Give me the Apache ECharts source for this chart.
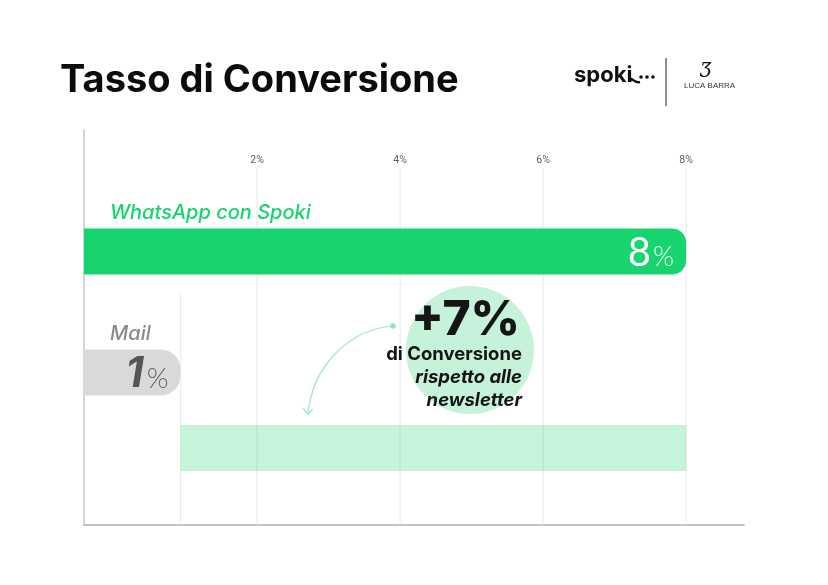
<!DOCTYPE html>
<html>
<head>
<meta charset="utf-8">
<script src="https://cdn.jsdelivr.net/npm/echarts@6/dist/echarts.min.js"></script>
<style>html,body{margin:0;padding:0;background:#fff;}#c{width:828px;height:585px;}</style>
</head>
<body>
<div id="c"></div>
<script>
// ---- data ----
const categories = ['WhatsApp con Spoki', 'Mail'];
const rates = [8, 1];                 // conversion rate, %
const tickValues = [2, 4, 6, 8];
const tickLabels = ['2%', '4%', '6%', '8%'];
const titleText = 'Tasso di Conversione';
const noteLines = ['di Conversione', 'rispetto alle', 'newsletter'];

// ---- layout / style (not data) ----
const rowCenters = [0.3076, 0.6139, 0.805]; // fraction of plot height
const GREEN = '#17d46e';
const FONT = 'Inter, "Noto Sans", sans-serif';
const SMALL_SHIFT = 5; // px nudge of the Mail end marker

const chart = echarts.init(document.getElementById('c'), null, {renderer: 'canvas'});
const uplift = rates[0] - rates[1];

function rowY(api, row) { return api.coord([0, rowCenters[row]])[1]; }

const option = {
  animation: false,
  backgroundColor: '#ffffff',
  grid: {left: 84, right: 84, top: 130, bottom: 60},
  xAxis: {
    type: 'value', min: -0.42, max: 8.81,
    axisLine: {show: true, onZero: false, lineStyle: {color: '#c4c4c4', width: 2}},
    axisTick: {show: false}, axisLabel: {show: false}, splitLine: {show: false}
  },
  yAxis: {
    type: 'value', min: 0, max: 1, inverse: true,
    axisLine: {show: true, onZero: false, lineStyle: {color: '#c8c8c8', width: 1.5}},
    axisTick: {show: false}, axisLabel: {show: false}, splitLine: {show: false}
  },
  series: [
    { // gridlines + tick labels
      type: 'custom', z: 1, silent: true,
      data: tickValues.map((v, i) => [v, i]),
      renderItem: function (params, api) {
        const cs = params.coordSys;
        const x = api.coord([api.value(0), 0])[0];
        return {type: 'group', children: [
          {type: 'line', shape: {x1: x, y1: cs.y + 38, x2: x, y2: cs.y + cs.height},
           style: {stroke: '#e6e6e6', lineWidth: 1}},
          {type: 'text', style: {text: tickLabels[api.value(1)], x: x, y: cs.y + 30,
            align: 'center', verticalAlign: 'middle', fill: '#5f5f5f', fontSize: 10.5,
            fontFamily: 'Roboto, sans-serif'}}
        ]};
      }
    },
    { // reference line at Mail value
      type: 'custom', z: 1, silent: true,
      data: [[rates[1]]],
      renderItem: function (params, api) {
        const cs = params.coordSys;
        const x = api.coord([api.value(0), 0])[0] - SMALL_SHIFT;
        return {type: 'line', shape: {x1: x, y1: rowY(api, 1) - 80, x2: x, y2: cs.y + cs.height},
          style: {stroke: '#e6ecec', lineWidth: 1}};
      }
    },
    { // difference band
      type: 'custom', z: 2, silent: true,
      data: [[rates[1], rates[0]]],
      renderItem: function (params, api) {
        const x0 = api.coord([api.value(0), 0])[0] - SMALL_SHIFT;
        const x1 = api.coord([api.value(1), 0])[0];
        const y = rowY(api, 2);
        return {type: 'rect', shape: {x: x0, y: y - 23, width: x1 - x0, height: 46},
          style: {fill: 'rgba(23,212,110,0.25)'}};
      }
    },
    { // bars
      type: 'custom', z: 3, silent: true,
      data: rates.map((v, i) => [v, i]),
      renderItem: function (params, api) {
        const cs = params.coordSys;
        const i = api.value(1);
        const x0 = cs.x;
        const x1 = api.coord([api.value(0), 0])[0] - (i === 1 ? SMALL_SHIFT : 0);
        const y = rowY(api, i);
        const isMain = i === 0;
        const r = isMain ? 14 : 20;
        const valText = String(api.value(0));
        return {type: 'group', children: [
          {type: 'rect', shape: {x: x0, y: y - 23, width: x1 - x0, height: 46, r: [0, r, r, 0]},
           style: {fill: isMain ? GREEN : '#d9d9d9'}},
          {type: 'text', style: {
            text: '{n|' + valText + '}{p|%}', x: x1 - 12, y: y + 2,
            align: 'right', verticalAlign: 'middle',
            rich: isMain ? {
              n: {fontSize: 40, fill: '#ffffff', fontFamily: 'Lato, sans-serif', fontWeight: 400},
              p: {fontSize: 27, fill: '#f2fff7', fontFamily: 'Lato, sans-serif', fontWeight: 300, padding: [8, 0, 0, 2]}
            } : {
              n: {fontSize: 42, fill: '#555555', fontFamily: FONT, fontWeight: 700, fontStyle: 'italic'},
              p: {fontSize: 28, fill: '#666666', fontFamily: 'Lato, sans-serif', fontWeight: 300, padding: [8, 0, 0, 3]}
            }}},
          {type: 'text', style: {
            text: categories[i], x: cs.x + 26, y: y - 39,
            align: 'left', verticalAlign: 'middle',
            fill: isMain ? GREEN : '#8a8a8a', fontSize: 20, fontStyle: 'italic',
            fontWeight: 500, fontFamily: FONT}}
        ]};
      }
    }
  ],
  graphic: [
    {type: 'text', left: 60, top: 62, style: {text: titleText, fontSize: 38, fontWeight: 700,
      fill: '#0b0b0b', fontFamily: FONT}},
    // logos
    {type: 'text', left: 574, top: 64, style: {text: 'spoki', fontSize: 22, fontWeight: 700,
      fill: '#111', fontFamily: FONT}},
    {type: 'circle', shape: {cx: 641, cy: 77, r: 1.8}, style: {fill: '#111'}},
    {type: 'circle', shape: {cx: 647, cy: 77, r: 1.8}, style: {fill: '#111'}},
    {type: 'circle', shape: {cx: 653, cy: 77, r: 1.8}, style: {fill: '#111'}},
    {type: 'bezierCurve', shape: {x1: 630, y1: 82, x2: 640, y2: 82, cpx1: 631, cpy1: 74, cpx2: 633, cpy2: 84},
      style: {stroke: '#111', lineWidth: 2.5, fill: null}},
    {type: 'line', shape: {x1: 666, y1: 58, x2: 666, y2: 106}, style: {stroke: '#222', lineWidth: 1}},
    {type: 'text', left: 700, top: 62, style: {text: 'Ʒ', fontSize: 20, fontStyle: 'italic',
      fill: '#111', fontFamily: '"DejaVu Serif", serif'}},
    {type: 'text', left: 684, top: 82, style: {text: 'LUCA BARRA', fontSize: 8,
      fill: '#333', fontFamily: '"Liberation Sans", sans-serif'}},
    // annotation
    {type: 'circle', z: 5, shape: {cx: 470, cy: 350, r: 64}, style: {fill: '#c6f2da'}},
    {type: 'text', z: 6, x: 520, y: 321, style: {text: '+' + uplift + '%', align: 'right', verticalAlign: 'middle',
      fontSize: 48, fontWeight: 800, fill: '#151515', fontFamily: FONT}},
    {type: 'text', z: 6, x: 522, y: 354, style: {text: noteLines[0], align: 'right', verticalAlign: 'middle',
      fontSize: 18.5, fontWeight: 700, fill: '#151515', fontFamily: FONT}},
    {type: 'text', z: 6, x: 522, y: 377, style: {text: noteLines[1], align: 'right', verticalAlign: 'middle',
      fontSize: 18.5, fontWeight: 700, fontStyle: 'italic', fill: '#151515', fontFamily: FONT}},
    {type: 'text', z: 6, x: 522, y: 400, style: {text: noteLines[2], align: 'right', verticalAlign: 'middle',
      fontSize: 18.5, fontWeight: 700, fontStyle: 'italic', fill: '#151515', fontFamily: FONT}},
    // arrow
    {type: 'circle', z: 6, shape: {cx: 393, cy: 326, r: 2.8}, style: {fill: '#8fe6b8'}},
    {type: 'bezierCurve', z: 6, shape: {x1: 393, y1: 326, x2: 308, y2: 414, cpx1: 345, cpy1: 330, cpx2: 312, cpy2: 370},
      style: {stroke: '#9be8c0', lineWidth: 1.2, fill: null}},
    {type: 'polyline', z: 6, shape: {points: [[303, 408], [308, 414], [313, 409]]},
      style: {stroke: '#9be8c0', lineWidth: 1.2, fill: null}}
  ]
};
chart.setOption(option);
</script>
</body>
</html>
